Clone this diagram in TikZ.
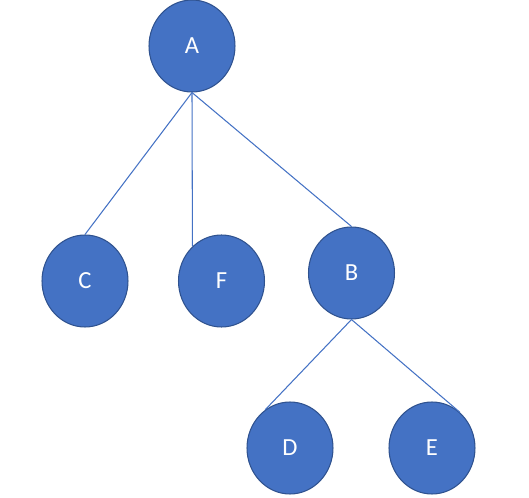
\documentclass[tikz,border=0pt]{standalone}
\usepackage{fontspec}
\setmainfont{Carlito}
\usetikzlibrary{shapes.geometric}
\definecolor{nodeblue}{HTML}{4472C4}
\definecolor{nodeedge}{HTML}{2F528F}
\tikzset{
  treenode/.style={ellipse, draw=nodeedge, line width=0.6pt, fill=nodeblue,
    minimum width=1.72cm, minimum height=1.84cm, inner sep=0pt,
    text=white, font=\fontsize{14}{16}\selectfont},
  treeedge/.style={draw=nodeblue, line width=0.6pt}
}
\begin{document}
\begin{tikzpicture}[x=0.02cm, y=-0.02cm]
  \useasboundingbox (0,0) rectangle (529,498);
  \node[treenode] (A) at (192,46) {A};
  \node[treenode] (C) at (85,281) {C};
  \node[treenode] (F) at (221.5,281) {F};
  \node[treenode] (B) at (351.5,273) {B};
  \node[treenode] (D) at (290,448) {D};
  \node[treenode] (E) at (432,448) {E};
  \draw[treeedge] (A.south) -- (C.north);
  \draw[treeedge] (A.south) -- (F.130);
  \draw[treeedge] (A.south) -- (B.north);
  \draw[treeedge] (B.south) -- (D.123);
  \draw[treeedge] (B.south) -- (E.52);
\end{tikzpicture}
\end{document}
